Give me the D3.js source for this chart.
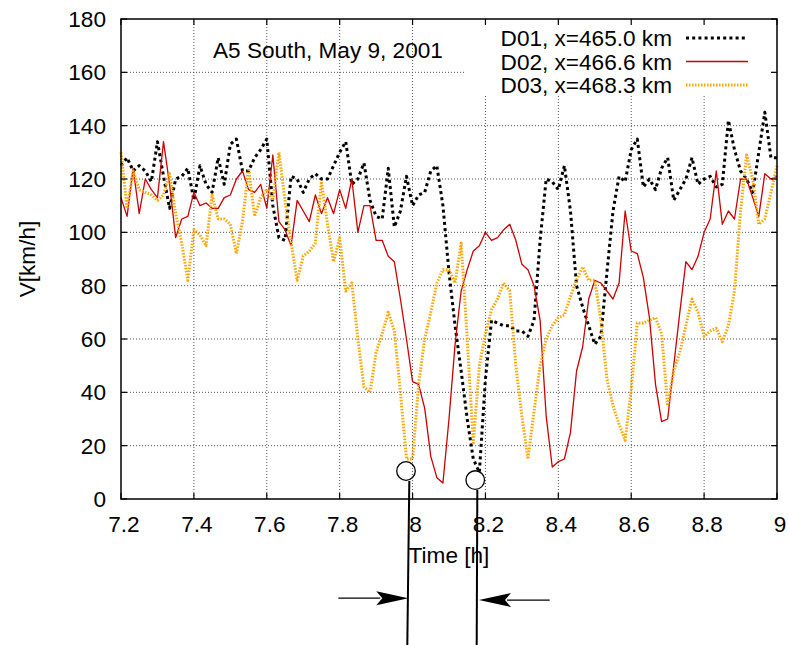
<!DOCTYPE html>
<html>
<head>
<meta charset="utf-8">
<script src="https://cdn.jsdelivr.net/npm/d3@7"></script>
<style>
  body { margin: 0; background: #fff; }
  svg text { font-family: "Liberation Sans", Arial, Helvetica, sans-serif; fill: #000; font-size: 22.6px; }
</style>
</head>
<body>
<div id="chart"></div>
<script>
// one sample per minute, starting at 7.2 h
const startHour = 7.2;
const stepHours = 1 / 60;

const d01 = [125,128,123,125,123,119,134,121,109,120,121,124,112,125,118,115,128,118,133,135,
  123,123,128,131,135,110,98,97,121,120,115,120,122,120,120,125,130,134,118,120,
  126,112,106,105,124,102,108,121,110,114,115,123,125,110,85,65,48,30,15,10,
  45,67,66,65,65,63,63,61,67,97,120,119,116,125,108,80,72,65,58,61,
  85,108,121,119,131,135,117,120,116,124,128,112,116,120,128,118,120,121,117,118,
  142,131,123,120,115,130,145,128,128];

const d02 = [113,106,124,107,120,116,113,134,118,98,105,106,115,110,111,109,109,113,114,120,
  123,116,115,118,109,129,104,101,95,112,108,104,114,107,113,107,116,109,120,100,
  110,110,97,97,91,89,75,60,44,43,34,16,8,6,30,58,78,86,93,95,
  100,97,98,101,103,97,88,86,80,67,31,12,14,15,25,48,57,75,82,81,
  78,75,81,108,93,92,83,68,43,29,30,50,70,89,86,91,100,105,123,103,
  108,105,120,120,113,106,122,120,121];

const d03 = [130,109,123,116,115,114,112,114,122,107,96,82,101,99,95,114,105,105,103,92,
  104,124,106,113,116,112,130,112,96,82,91,93,96,119,103,89,98,78,81,60,
  42,40,55,62,70,63,40,15,15,43,60,70,81,86,86,81,96,60,21,50,
  62,71,75,81,78,50,31,15,33,50,60,65,68,69,76,82,87,82,82,67,
  45,35,28,22,41,66,66,67,68,62,35,48,55,65,75,70,61,63,64,59,
  65,78,108,129,120,103,105,115,125];

const seriesNames = ["D01, x=465.0 km", "D02, x=466.6 km", "D03, x=468.3 km"];
const xTicks = [7.2, 7.4, 7.6, 7.8, 8, 8.2, 8.4, 8.6, 8.8, 9];
const yTicks = [0, 20, 40, 60, 80, 100, 120, 140, 160, 180];
const title = "A5 South, May 9, 2001";

// annotation: circled minima, leader lines and arrows (data units)
const markT = [7.982, 8.172];
const markV = [10.5, 7.1];
const leaderTopT = [7.9911, 8.1777];
const leaderTopV = [6.75, 3.5];
const leaderBottomT = [7.9856, 8.176];
const leaderBottomV = [-54.8, -54.8];
const arrowFromT = [7.7963, 8.3763];
const arrowToT = [7.9883, 8.1823];
const arrowV = [-37.2, -37.9];

const width = 789;
const height = 645;
const margin = { top: 19, right: 12, bottom: 146, left: 121 };

const x = d3.scaleLinear().domain([7.2, 9]).range([margin.left, width - margin.right]);
const y = d3.scaleLinear().domain([0, 180]).range([height - margin.bottom, margin.top]);

const svg = d3.select("#chart").append("svg")
  .attr("width", width)
  .attr("height", height);

const x0 = x.range()[0], x1 = x.range()[1];
const y0 = y.range()[0], y1 = y.range()[1];

// grid
const grid = svg.append("g")
  .attr("stroke", "#555")
  .attr("stroke-width", 1)
  .attr("stroke-dasharray", "1,2");
grid.selectAll(".gx").data(xTicks.slice(1, -1)).enter().append("line")
  .attr("x1", (d) => x(d)).attr("x2", (d) => x(d))
  .attr("y1", y0).attr("y2", y1);
grid.selectAll(".gy").data(yTicks.slice(1, -1)).enter().append("line")
  .attr("y1", (d) => y(d)).attr("y2", (d) => y(d))
  .attr("x1", x0).attr("x2", x1);

// opaque key background
const keyLeft = 465, keyBottom = 95;
svg.append("rect")
  .attr("x", keyLeft).attr("y", y1)
  .attr("width", x1 - keyLeft).attr("height", keyBottom - y1)
  .attr("fill", "#fff");

// series
const styles = [
  { data: d01, color: "#000", width: 3, dash: "3,3.2" },
  { data: d02, color: "#cc0000", width: 1.3, dash: null },
  { data: d03, color: "#ffa500", width: 3, dash: "1.5,1.5" }
];

const line = d3.line()
  .x((d, i) => x(startHour + i * stepHours))
  .y((d) => y(d));

styles.forEach((s) => {
  svg.append("path")
    .datum(s.data)
    .attr("fill", "none")
    .attr("stroke", s.color)
    .attr("stroke-width", s.width)
    .attr("stroke-dasharray", s.dash)
    .attr("stroke-linejoin", "round")
    .attr("d", line);
});

// title
svg.append("text")
  .attr("x", 213).attr("y", 58)
  .text(title);

// key
const key = svg.selectAll(".key").data(styles).enter().append("g")
  .attr("transform", (d, i) => `translate(0, ${46 + i * 23.5})`);
key.append("text")
  .attr("x", 672).attr("y", 0)
  .attr("text-anchor", "end")
  .text((d, i) => seriesNames[i]);
key.append("line")
  .attr("x1", 686).attr("x2", 748)
  .attr("y1", -8).attr("y2", -8)
  .attr("stroke", (d) => d.color)
  .attr("stroke-width", (d) => d.width)
  .attr("stroke-dasharray", (d) => d.dash);

// frame
svg.append("rect")
  .attr("x", x0).attr("y", y1)
  .attr("width", x1 - x0).attr("height", y0 - y1)
  .attr("fill", "none")
  .attr("stroke", "#000")
  .attr("stroke-width", 1.5);

// ticks inward on all sides
const tickLen = 6;
const ticks = svg.append("g").attr("stroke", "#000").attr("stroke-width", 1.2);
xTicks.forEach((t) => {
  ticks.append("line").attr("x1", x(t)).attr("x2", x(t)).attr("y1", y0).attr("y2", y0 - tickLen);
  ticks.append("line").attr("x1", x(t)).attr("x2", x(t)).attr("y1", y1).attr("y2", y1 + tickLen);
});
yTicks.forEach((t) => {
  ticks.append("line").attr("y1", y(t)).attr("y2", y(t)).attr("x1", x0).attr("x2", x0 + tickLen);
  ticks.append("line").attr("y1", y(t)).attr("y2", y(t)).attr("x1", x1).attr("x2", x1 - tickLen);
});

// tick labels
svg.selectAll(".xl").data(xTicks).enter().append("text")
  .attr("x", (d) => x(d) + 3)
  .attr("y", y0 + 33)
  .attr("text-anchor", "middle")
  .text((d) => d3.format("~g")(d));

svg.selectAll(".yl").data(yTicks).enter().append("text")
  .attr("x", x0 - 15)
  .attr("y", (d) => y(d) + 8)
  .attr("text-anchor", "end")
  .text((d) => d);

// axis titles
svg.append("text")
  .attr("x", 449).attr("y", 563)
  .attr("text-anchor", "middle")
  .text("Time [h]");

svg.append("text")
  .attr("transform", `translate(35, ${(y0 + y1) / 2}) rotate(-90)`)
  .attr("text-anchor", "middle")
  .text("V[km/h]");

// annotations
const ann = svg.append("g").attr("stroke", "#000").attr("fill", "none");
markT.forEach((t, i) => {
  ann.append("circle")
    .attr("cx", x(t)).attr("cy", y(markV[i]))
    .attr("r", 9.3)
    .attr("stroke-width", 1.3);
  ann.append("line")
    .attr("x1", x(leaderTopT[i])).attr("y1", y(leaderTopV[i]))
    .attr("x2", x(leaderBottomT[i])).attr("y2", y(leaderBottomV[i]))
    .attr("stroke-width", 2);
  const xa = x(arrowFromT[i]), xb = x(arrowToT[i]), ya = y(arrowV[i]);
  const dir = xb > xa ? 1 : -1;
  ann.append("line")
    .attr("x1", xa).attr("y1", ya)
    .attr("x2", xb - dir * 28).attr("y2", ya)
    .attr("stroke-width", 1.3);
  ann.append("path")
    .attr("d", `M${xb},${ya} L${xb - dir * 32},${ya - 7} L${xb - dir * 26},${ya} L${xb - dir * 32},${ya + 7} Z`)
    .attr("fill", "#000")
    .attr("stroke", "none");
});
</script>
</body>
</html>
